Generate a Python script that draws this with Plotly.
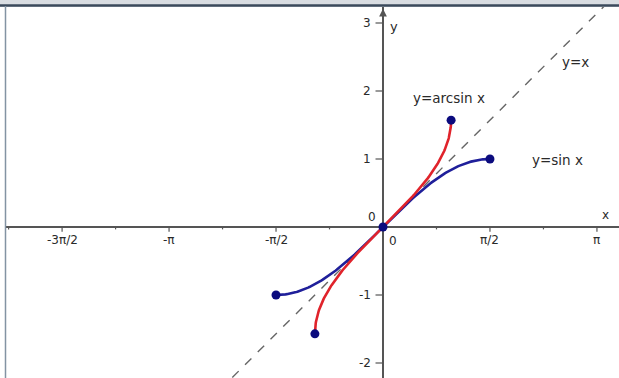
import numpy as np
import plotly.graph_objects as go

PI = np.pi

# Curve data (the functions the chart shows)
sin_x = np.linspace(-PI / 2, PI / 2, 181)
sin_y = np.sin(sin_x)
arcsin_x = sin_y
arcsin_y = sin_x
identity_xy = [-2.4, 3.5]

# Highlighted points
point_x = [-PI / 2, PI / 2, -1.0, 1.0, 0.0]
point_y = [-1.0, 1.0, -PI / 2, PI / 2, 0.0]

# Axis ticks
x_major_vals = [-3 * PI / 2, -PI, -PI / 2, PI / 2, PI]
x_major_text = ["-3π/2", "-π", "-π/2", "π/2", "π"]
x_minor_vals = [-7 * PI / 4, -5 * PI / 4, -3 * PI / 4, -PI / 4, PI / 4, 3 * PI / 4]
y_tick_vals = [3, 2, 1, -1, -2]
y_tick_text = ["3", "2", "1", "-1", "-2"]

# Curve labels
label_text = ["y=x", "y=arcsin x", "y=sin x"]
label_x = [2.83, 0.97, 2.56]
label_y = [2.43, 1.90, 0.985]

FONT = "DejaVu Sans, Liberation Sans, Arial, sans-serif"
AXIS_COLOR = "#555555"
TEXT_COLOR = "#2a2a2a"

fig = go.Figure()

fig.add_trace(go.Scatter(x=identity_xy, y=identity_xy, mode="lines",
                         line=dict(color="#666666", width=1.4, dash="dash"),
                         hoverinfo="skip", showlegend=False))
fig.add_trace(go.Scatter(x=sin_x, y=sin_y, mode="lines",
                         line=dict(color="#1f1f9a", width=2.6),
                         showlegend=False))
fig.add_trace(go.Scatter(x=arcsin_x, y=arcsin_y, mode="lines",
                         line=dict(color="#e0232b", width=2.6),
                         showlegend=False))
fig.add_trace(go.Scatter(x=point_x, y=point_y, mode="markers",
                         marker=dict(color="#0b0b7e", size=9),
                         showlegend=False))

shapes = []
for xv in x_major_vals:
    shapes.append(dict(type="line", xref="x", yref="y", x0=xv, x1=xv, y0=0.01, y1=-0.07,
                       line=dict(color=AXIS_COLOR, width=1.2)))
for xv in x_minor_vals:
    shapes.append(dict(type="line", xref="x", yref="y", x0=xv, x1=xv, y0=0.0, y1=-0.035,
                       line=dict(color=AXIS_COLOR, width=1.2)))
for yv in y_tick_vals:
    shapes.append(dict(type="line", xref="x", yref="y", x0=-0.11, x1=0.0, y0=yv, y1=yv,
                       line=dict(color=AXIS_COLOR, width=1.2)))
# window frame: top bar and left border
shapes.append(dict(type="rect", xref="paper", yref="paper", x0=0, x1=1,
                   y0=1 - 7 / 378, y1=1, fillcolor="#d9dde2", line=dict(width=0), layer="above"))
shapes.append(dict(type="line", xref="paper", yref="paper", x0=0, x1=1,
                   y0=1 - 5.5 / 378, y1=1 - 5.5 / 378, line=dict(color="#3b4a5c", width=2.5), layer="above"))
shapes.append(dict(type="rect", xref="paper", yref="paper", x0=0, x1=5 / 619,
                   y0=0, y1=1 - 7 / 378, fillcolor="#ffffff", line=dict(width=0), layer="above"))
shapes.append(dict(type="line", xref="paper", yref="paper", x0=5.5 / 619, x1=5.5 / 619,
                   y0=0, y1=1 - 6 / 378, line=dict(color="#8393a3", width=1.5), layer="above"))

annotations = []
for xv, t in zip(x_major_vals, x_major_text):
    annotations.append(dict(x=xv, y=-0.19, text=t, showarrow=False, xanchor="center", yanchor="middle",
                            font=dict(family=FONT, size=12, color=TEXT_COLOR)))
for yv, t in zip(y_tick_vals, y_tick_text):
    annotations.append(dict(x=-0.15, y=yv, text=t, showarrow=False, xanchor="right", yanchor="middle",
                            font=dict(family=FONT, size=12, color=TEXT_COLOR)))
annotations.append(dict(x=-0.16, y=0.14, text="0", showarrow=False, xanchor="center", yanchor="middle",
                        font=dict(family=FONT, size=12, color=TEXT_COLOR)))
annotations.append(dict(x=0.15, y=-0.2, text="0", showarrow=False, xanchor="center", yanchor="middle",
                        font=dict(family=FONT, size=12, color=TEXT_COLOR)))
annotations.append(dict(x=3.26, y=0.18, text="x", showarrow=False, xanchor="center", yanchor="middle",
                        font=dict(family=FONT, size=12, color=TEXT_COLOR)))
annotations.append(dict(x=0.16, y=2.95, text="y", showarrow=False, xanchor="center", yanchor="middle",
                        font=dict(family=FONT, size=13, color=TEXT_COLOR)))
for t, xv, yv in zip(label_text, label_x, label_y):
    annotations.append(dict(x=xv, y=yv, text=t, showarrow=False, xanchor="center", yanchor="middle",
                            font=dict(family=FONT, size=13.5, color=TEXT_COLOR)))
# arrow head on y axis
annotations.append(dict(x=0, y=3.21, ax=0, ay=3.0, xref="x", yref="y", axref="x", ayref="y",
                        text="", showarrow=True, arrowhead=2, arrowsize=1.2, arrowwidth=1.3,
                        arrowcolor=AXIS_COLOR))

fig.update_layout(
    width=619, height=378,
    margin=dict(l=0, r=0, t=0, b=0),
    paper_bgcolor="white", plot_bgcolor="white",
    shapes=shapes, annotations=annotations,
    xaxis=dict(range=[-383 / 68.1, 236 / 68.1], showgrid=False, showticklabels=False, ticks="",
               zeroline=True, zerolinecolor=AXIS_COLOR, zerolinewidth=1.5, fixedrange=True),
    yaxis=dict(range=[-151 / 68, 227 / 68], showgrid=False, showticklabels=False, ticks="",
               zeroline=True, zerolinecolor=AXIS_COLOR, zerolinewidth=1.5, fixedrange=True),
)

fig.write_html("out.html", config={"displayModeBar": False},
               post_script="document.body.style.margin='0';document.body.style.padding='0';")
